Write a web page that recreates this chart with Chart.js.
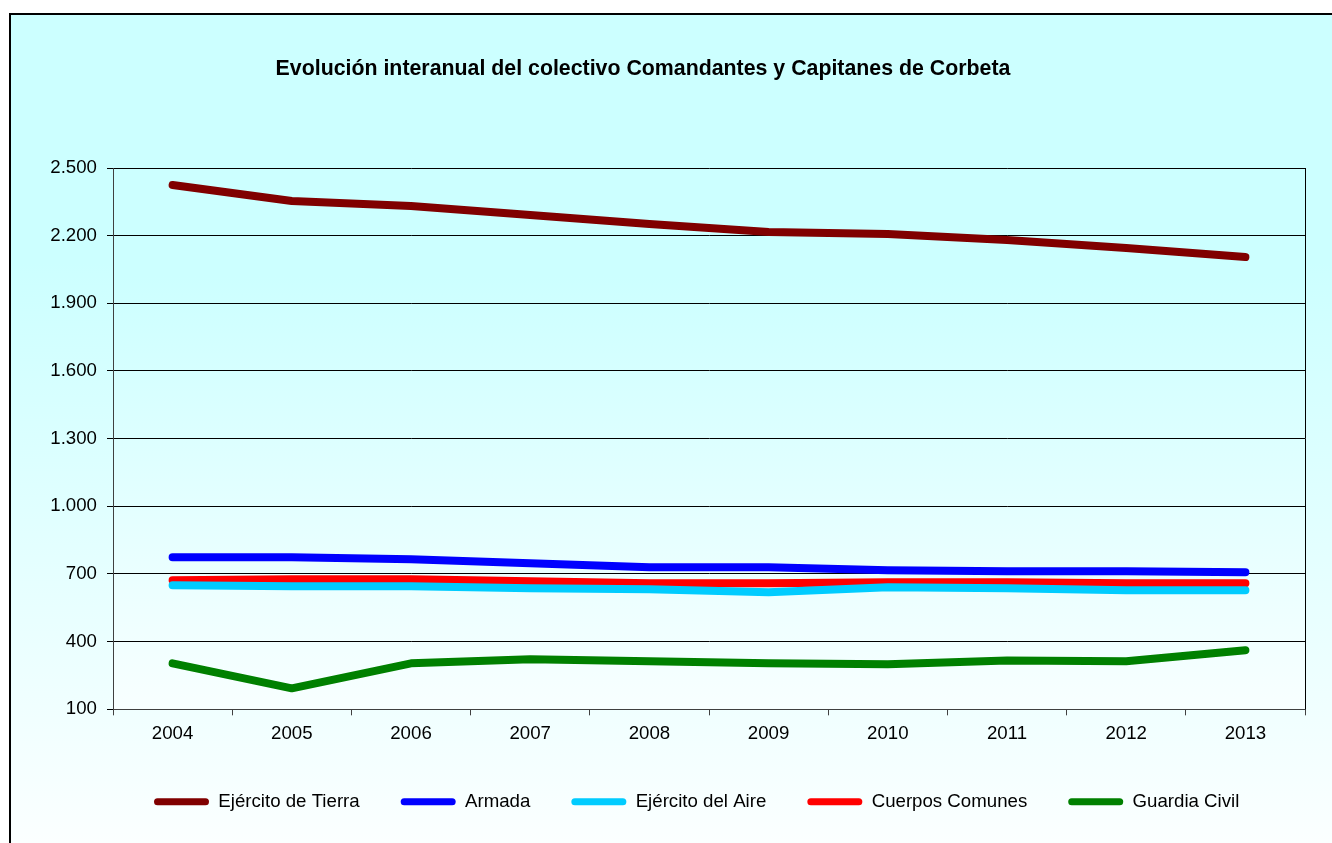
<!DOCTYPE html>
<html lang="es">
<head>
    <meta charset="UTF-8">
    <title>Comandantes y Capitanes de Corbeta</title>
    <script src="https://cdn.jsdelivr.net/npm/chart.js"></script>
    <style>
        html, body {
            margin: 0;
            padding: 0;
            background: #ffffff;
            overflow: hidden;
        }
        #wrap {
            width: 1332px;
            height: 843px;
        }
    </style>
</head>
<body>
    <div id="wrap"><canvas id="lineChart"></canvas></div>

    <script type="text/javascript">
        const years = ['2004', '2005', '2006', '2007', '2008', '2009', '2010', '2011', '2012', '2013'];

        const tierra = [2425, 2354, 2332, 2292, 2252, 2216, 2207, 2181, 2145, 2105];
        const armada = [774, 774, 765, 748, 730, 730, 717, 712, 712, 708];
        const aire = [650, 646, 646, 637, 632, 619, 641, 637, 628, 628];
        const comunes = [672, 677, 677, 668, 659, 659, 663, 663, 659, 659];
        const guardia = [304, 193, 304, 322, 313, 304, 300, 317, 313, 362];

        const seriesNames = ['Ejército de Tierra', 'Armada', 'Ejército del Aire', 'Cuerpos Comunes', 'Guardia Civil'];
        const seriesColors = ['#800000', '#0000ff', '#00ccff', '#ff0000', '#008000'];
        const seriesData = [tierra, armada, aire, comunes, guardia];

        const yTicks = [100, 400, 700, 1000, 1300, 1600, 1900, 2200, 2500];
        const chartTitle = 'Evolución interanual del colectivo Comandantes y Capitanes de Corbeta';

        Chart.defaults.font.family = '"Liberation Sans", Arial, sans-serif';
        Chart.defaults.color = '#000000';

        function fmt(v) {
            // 2500 -> 2.500
            return String(v).replace(/\B(?=(\d{3})+(?!\d))/g, '.');
        }

        // backgrounds, outer border, title and plot frame
        const frame = {
            id: 'frame',
            beforeDraw(chart) {
                const ctx = chart.ctx;
                const a = chart.chartArea;
                ctx.save();
                let g = ctx.createLinearGradient(0, 14, 0, 843);
                g.addColorStop(0, '#ccffff');
                g.addColorStop(0.3, '#ccffff');
                g.addColorStop(1, '#fbffff');
                ctx.fillStyle = g;
                ctx.fillRect(10, 14, chart.width, chart.height);

                g = ctx.createLinearGradient(0, a.top, 0, a.bottom);
                g.addColorStop(0, '#ccffff');
                g.addColorStop(0.2, '#ccffff');
                g.addColorStop(1, '#f8ffff');
                ctx.fillStyle = g;
                ctx.fillRect(a.left, a.top, a.right - a.left, a.bottom - a.top);

                ctx.strokeStyle = '#000000';
                ctx.lineWidth = 2;
                ctx.strokeRect(10, 14, chart.width + 20, chart.height + 20);

                ctx.fillStyle = '#000000';
                ctx.font = 'bold 21.33px "Liberation Sans", Arial, sans-serif';
                ctx.textAlign = 'center';
                ctx.textBaseline = 'middle';
                ctx.fillText(chartTitle, 643, 69);
                ctx.restore();
            },
            afterDatasetsDraw(chart) {
                const ctx = chart.ctx;
                const a = chart.chartArea;
                ctx.save();
                ctx.strokeStyle = '#000000';
                ctx.lineWidth = 1;
                ctx.beginPath();
                ctx.moveTo(a.right + 0.5, a.top);
                ctx.lineTo(a.right + 0.5, a.bottom);
                ctx.stroke();
                ctx.restore();
            }
        };

        const datasets = seriesNames.map((name, i) => ({
            label: name,
            data: seriesData[i],
            borderColor: seriesColors[i],
            backgroundColor: seriesColors[i],
            borderWidth: 8,
            borderCapStyle: 'round',
            borderJoinStyle: 'round',
            pointRadius: 0,
            tension: 0,
            fill: false
        }));

        new Chart(document.getElementById('lineChart').getContext('2d'), {
            type: 'line',
            data: { labels: years, datasets: datasets },
            plugins: [frame],
            options: {
                responsive: true,
                maintainAspectRatio: false,
                animation: false,
                layout: {
                    padding: { top: 168, left: 0, right: 27, bottom: 22 }
                },
                plugins: {
                    title: { display: false },
                    tooltip: { enabled: false },
                    legend: {
                        position: 'bottom',
                        fullSize: false,
                        align: 'start',
                        labels: {
                            boxWidth: 55,
                            boxHeight: 7,
                            padding: 41,
                            font: { size: 18.67 },
                            color: '#000000',
                            useBorderRadius: true,
                            borderRadius: 3.5,
                            generateLabels(chart) {
                                return chart.data.datasets.map((ds, i) => ({
                                    text: ds.label,
                                    fillStyle: ds.borderColor,
                                    strokeStyle: ds.borderColor,
                                    lineWidth: 0,
                                    hidden: false,
                                    datasetIndex: i,
                                    borderRadius: 3.5
                                }));
                            }
                        }
                    }
                },
                scales: {
                    x: {
                        offset: true,
                        grid: {
                            offset: true,
                            drawOnChartArea: false,
                            drawTicks: true,
                            tickLength: 6,
                            color: '#404040'
                        },
                        border: { display: true, color: '#404040', width: 1 },
                        ticks: {
                            font: { size: 18.67 },
                            color: '#000000',
                            padding: 7,
                            maxRotation: 0
                        },
                        afterFit(scale) { scale.height = 42; }
                    },
                    y: {
                        min: 100,
                        max: 2500,
                        afterBuildTicks(scale) {
                            scale.ticks = yTicks.map(v => ({ value: v }));
                        },
                        grid: {
                            color: '#000000',
                            lineWidth: 1,
                            drawTicks: true,
                            tickLength: 6
                        },
                        border: { display: true, color: '#404040', width: 1 },
                        ticks: {
                            font: { size: 18.67 },
                            color: '#000000',
                            padding: 10,
                            callback: (v) => fmt(v)
                        },
                        afterFit(scale) { scale.width = 113; }
                    }
                }
            }
        });
    </script>
</body>
</html>
